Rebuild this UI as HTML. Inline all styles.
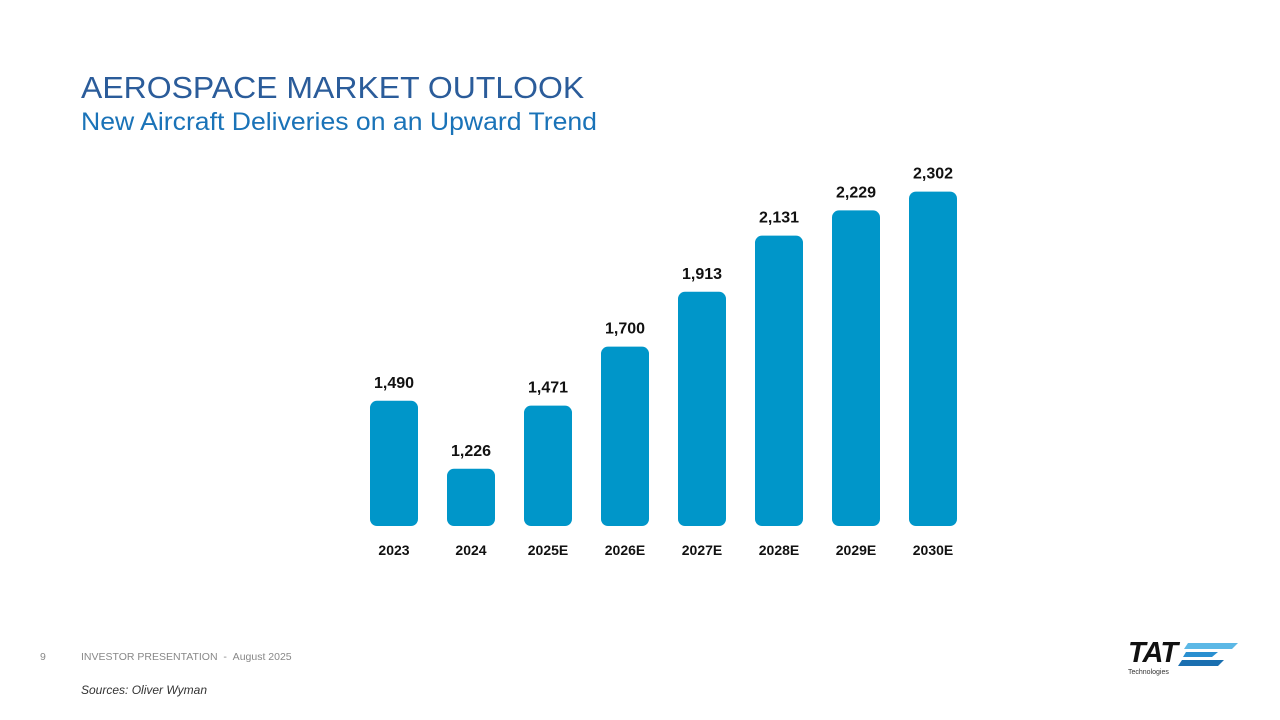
<!DOCTYPE html>
<html><head><meta charset="utf-8"><style>
body{margin:0;width:1280px;height:720px;background:#fff;position:relative;overflow:hidden;font-family:"Liberation Sans",sans-serif}
.t{position:absolute;left:81px;top:70px;font-size:31px;color:#2b5c9a;transform-origin:0 0;transform:scaleX(1.031);white-space:nowrap}
.s{position:absolute;left:81px;top:108px;font-size:25px;color:#1a73b8;transform-origin:0 0;transform:scaleX(1.064);white-space:nowrap}
.f{position:absolute;top:651px;font-size:10.5px;color:#888;white-space:nowrap}
</style></head><body>
<div class="t">AEROSPACE MARKET OUTLOOK</div>
<div class="s">New Aircraft Deliveries on an Upward Trend</div>
<svg id="chart" width="1280" height="720" style="position:absolute;left:0;top:0"></svg>
<div class="f" style="left:40px">9</div>
<div class="f" style="left:81px">INVESTOR PRESENTATION &nbsp;- &nbsp;August 2025</div>
<div style="position:absolute;left:81px;top:683px;font-size:12px;font-style:italic;color:#333">Sources: Oliver Wyman</div>
<div style="position:absolute;left:1128px;top:640px;width:112px;height:40px">
<div style="position:absolute;left:0;top:-3px;font:italic bold 29px 'Liberation Sans',sans-serif;color:#111;letter-spacing:-1px">TAT</div>
<svg width="112" height="40" style="position:absolute;left:0;top:0"><polygon points="60,3 110,3 104,9 56,9" fill="#5cb8e6"/><polygon points="58,12 90,12 84,17 55,17" fill="#2a8fd0"/><polygon points="54,20 96,20 90,26 50,26" fill="#1a6fb0"/></svg>
<div style="position:absolute;left:0;top:29px;font-size:7px;color:#333">Technologies</div>
</div>
<script>
const categories=["2023","2024","2025E","2026E","2027E","2028E","2029E","2030E"];
const values=[1490,1226,1471,1700,1913,2131,2229,2302];
const valueLabels=["1,490","1,226","1,471","1,700","1,913","2,131","2,229","2,302"];
const svg=document.getElementById('chart');
const NS='http://www.w3.org/2000/svg';
const base=526,minV=1000,scale=0.2576;
function yPos(v){return base-(v-minV)*scale;}
function xPos(i){return 394+i*77;}
const bw=48;
values.forEach((v,i)=>{
 const r=document.createElementNS(NS,'rect');
 r.setAttribute('x',xPos(i)-bw/2);r.setAttribute('y',yPos(v)+1);
 r.setAttribute('width',bw);r.setAttribute('height',base-yPos(v)-1);
 r.setAttribute('rx',7);r.setAttribute('fill','#0096c9');
 
 
 svg.appendChild(r);
 const t=document.createElementNS(NS,'text');
 t.setAttribute('x',xPos(i));t.setAttribute('y',yPos(v)-12);
 t.setAttribute('text-anchor','middle');t.setAttribute('font-size','16');t.setAttribute('font-weight','bold');
 t.setAttribute('font-family','Liberation Sans, sans-serif');t.setAttribute('fill','#111');
 t.textContent=valueLabels[i];
 
 
 svg.appendChild(t);
 const c=document.createElementNS(NS,'text');
 c.setAttribute('x',xPos(i));c.setAttribute('y',555);
 c.setAttribute('text-anchor','middle');c.setAttribute('font-size','14');c.setAttribute('font-weight','bold');
 c.setAttribute('font-family','Liberation Sans, sans-serif');c.setAttribute('fill','#111');
 c.textContent=categories[i];
 
 
 svg.appendChild(c);
});
</script>
</body></html>
